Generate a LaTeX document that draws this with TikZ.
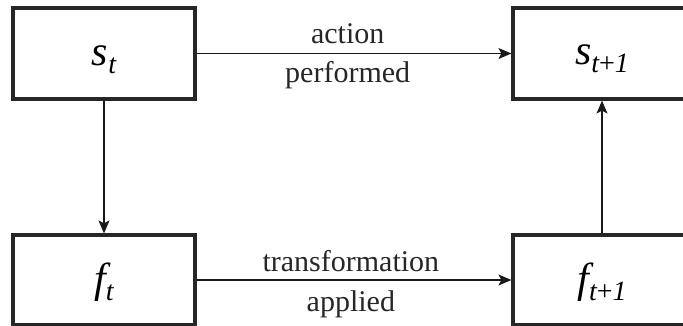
\documentclass[tikz,border=0pt]{standalone}
\usepackage{fontspec}
\setmainfont{Liberation Serif}
\usetikzlibrary{arrows.meta}
\tikzset{
  statebox/.style={draw=black!85, line width=3.2pt, fill=white, inner sep=0pt},
  conn/.style={draw=black!90, line width=1.1pt, -{Stealth[length=13pt,width=11pt,inset=3pt]}},
  edgetext/.style={font=\fontsize{30}{30}\selectfont, text=black!85, inner sep=0pt, anchor=base}
}
\newcommand{\mainv}[1]{{\fontsize{42}{42}\selectfont\itshape #1}}
\newcommand{\subv}[1]{\raisebox{-8pt}{\fontsize{28}{28}\selectfont #1}}
\begin{document}
\begin{tikzpicture}[x=1pt,y=-1pt]
\useasboundingbox (0,0) rectangle (683,325);
\clip (0,0) rectangle (683,325);
\node[statebox, minimum width=182pt, minimum height=91pt] (st) at (104,53.5) {};
\node[statebox, minimum width=178pt, minimum height=91pt] (st1) at (602,53.5) {};
\node[statebox, minimum width=182pt, minimum height=90pt] (ft) at (104,280) {};
\node[statebox, minimum width=178pt, minimum height=90pt] (ft1) at (602,280) {};
\node[inner sep=0pt, anchor=base] (stl) at ([yshift=-12pt]st.center) {\mainv{s}\subv{\itshape t}};
\node[inner sep=0pt, anchor=base] (st1l) at ([yshift=-11pt]st1.center) {\mainv{s}\subv{\itshape t\upshape+\itshape 1}};
\node[inner sep=0pt, anchor=base] (ftl) at ([yshift=-12pt]ft.center) {\mainv{f}\subv{\itshape t}};
\node[inner sep=0pt, anchor=base] (ft1l) at ([yshift=-12pt]ft1.center) {\mainv{f}\subv{\itshape t\upshape+\itshape 1}};
\draw[conn] (st.east) -- (st1.west)
  node[edgetext, pos=0.48, yshift=10pt] {action}
  node[edgetext, pos=0.48, yshift=-29pt] {performed};
\draw[conn] (ft.east) -- (ft1.west)
  node[edgetext, pos=0.49, yshift=9pt] {transformation}
  node[edgetext, pos=0.49, yshift=-31pt] {applied};
\draw[conn] (st.south) -- (ft.north);
\draw[conn] (ft1.north) -- (st1.south);
\end{tikzpicture}
\end{document}
